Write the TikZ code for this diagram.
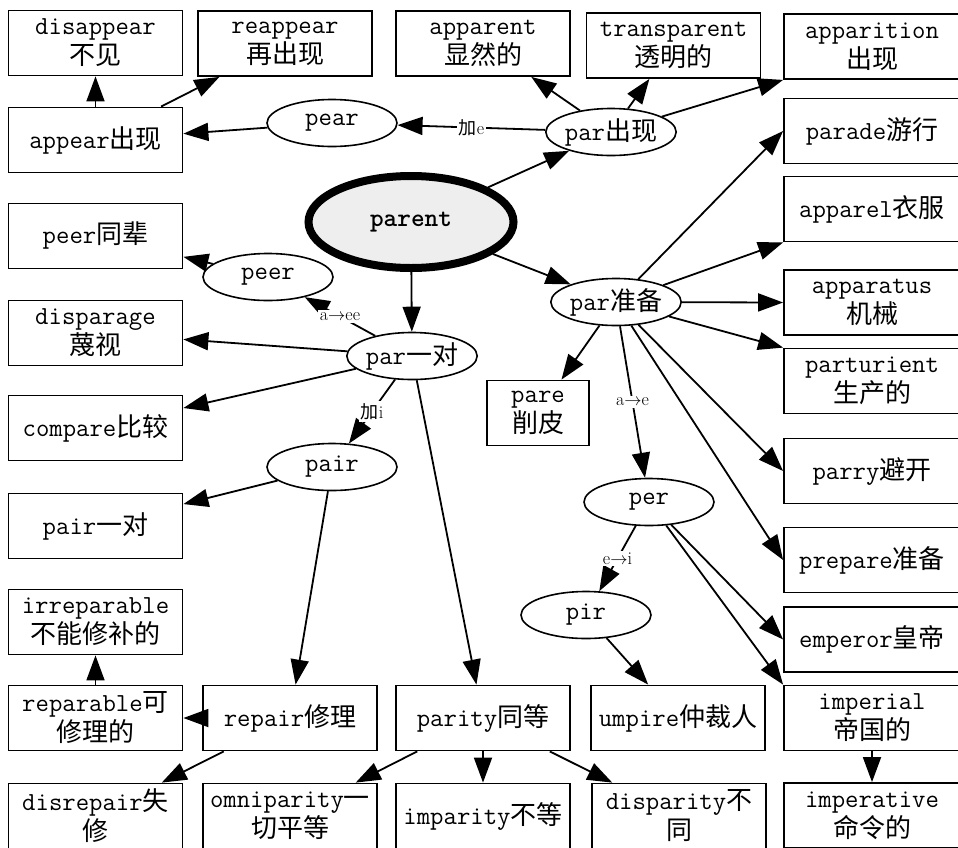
\documentclass[tikz,border=0pt]{standalone}
\usepackage{fontspec}
\newfontfamily\cjk{Noto Sans CJK SC}
\usetikzlibrary{shapes.geometric,arrows.meta}
\newcommand{\zh}[1]{{\cjk #1}}
\tikzset{
  box/.style={draw, line width=1.8pt, minimum width=174pt, minimum height=65pt, inner sep=0pt, align=center,
    font=\ttfamily\fontsize{26}{30}\selectfont},
  rbox/.style={box, minimum width=176pt},
  oval/.style={ellipse, draw, line width=1.6pt, minimum width=130pt, minimum height=47pt, inner sep=0pt,
    font=\ttfamily\fontsize{26}{30}\selectfont},
  root/.style={ellipse, draw, line width=8pt, fill=gray!13, minimum width=205pt, minimum height=92pt, inner sep=0pt,
    font=\ttfamily\bfseries\fontsize{26}{30}\selectfont},
  arr/.style={line width=1.8pt, -{Triangle[length=25pt,width=18pt]}},
  lbl/.style={fill=white, inner sep=2pt, font=\rmfamily\fontsize{18}{20}\selectfont},
}
\begin{document}
\begin{tikzpicture}[x=1pt,y=-1pt]
\useasboundingbox (0,0) rectangle (958,847);
% left column
\node[box] (disappear) at (95.5,43) {disappear\\\zh{不见}};
\node[box] (appear) at (95.5,140) {appear\zh{出现}};
\node[box] (peerT) at (95.5,236) {peer\zh{同辈}};
\node[box] (disparage) at (95.5,333) {disparage\\\zh{蔑视}};
\node[box] (compare) at (95.5,428) {compare\zh{比较}};
\node[box] (pairT) at (95.5,526) {pair\zh{一对}};
\node[box] (irreparable) at (95.5,622) {irreparable\\\zh{不能修补的}};
\node[box] (reparable) at (95.5,718) {reparable\zh{可}\\\zh{修理的}};
\node[box] (disrepair) at (95.5,816) {disrepair\zh{失}\\\zh{修}};
% top row
\node[box] (reappear) at (285,43.5) {reappear\\\zh{再出现}};
\node[box] (apparent) at (483,43.5) {apparent\\\zh{显然的}};
\node[box] (transparent) at (673.5,45.5) {transparent\\\zh{透明的}};
\node[rbox] (apparition) at (872,46.5) {apparition\\\zh{出现}};
% right column
\node[rbox] (parade) at (872,131) {parade\zh{游行}};
\node[rbox] (apparel) at (872,209) {apparel\zh{衣服}};
\node[rbox] (apparatus) at (872,302.5) {apparatus\\\zh{机械}};
\node[rbox] (parturient) at (872,381) {parturient\\\zh{生产的}};
\node[rbox] (parry) at (872,471) {parry\zh{避开}};
\node[rbox] (prepare) at (872,560) {prepare\zh{准备}};
\node[rbox] (emperor) at (872,639.5) {emperor\zh{皇帝}};
\node[rbox] (imperial) at (872,718) {imperial\\\zh{帝国的}};
\node[rbox] (imperative) at (872,815.5) {imperative\\\zh{命令的}};
% middle boxes
\node[box] (repair) at (290,718) {repair\zh{修理}};
\node[box] (parity) at (483,718) {parity\zh{同等}};
\node[box] (umpire) at (678,718) {umpire\zh{仲裁人}};
\node[box] (omniparity) at (290,816) {omniparity\zh{一}\\\zh{切平等}};
\node[box] (imparity) at (483,816) {imparity\zh{不等}};
\node[box] (disparity) at (679,816) {disparity\zh{不}\\\zh{同}};
\node[box, minimum width=102pt] (pare) at (538,413) {pare\\\zh{削皮}};
% ellipses
\node[root] (parent) at (411,222) {parent};
\node[oval] (pear) at (332,123) {pear};
\node[oval] (parOcc) at (611,132) {par\zh{出现}};
\node[oval] (peer) at (268,277) {peer};
\node[oval] (par1) at (412,356) {par\zh{一对}};
\node[oval] (parP) at (616,302) {par\zh{准备}};
\node[oval] (pair) at (332,467) {pair};
\node[oval] (per) at (649,502) {per};
\node[oval] (pir) at (586,615) {pir};
% edges
\draw[arr] (appear) -- (disappear);
\draw[arr] (appear) -- (reappear);
\draw[arr] (pear) -- (appear);
\draw[arr] (parOcc) -- node[lbl]{\zh{加}e} (pear);
\draw[arr] (parOcc) -- (apparent);
\draw[arr] (parOcc) -- (transparent);
\draw[arr] (parOcc) -- (apparition.south west);
\draw[arr] (parent) -- (parOcc);
\draw[arr] (parent) -- (parP);
\draw[arr] (parent) -- (par1);
\draw[arr] (par1) -- node[lbl]{a$\to$ee} (peer);
\draw[arr] (peer) -- (peerT);
\draw[arr] (par1) -- (disparage);
\draw[arr] (par1) -- (compare);
\draw[arr] (par1) -- node[lbl]{\zh{加}i} (pair);
\draw[arr] (par1) -- (parity);
\draw[arr] (pair) -- (pairT);
\draw[arr] (pair) -- (repair);
\draw[arr] (repair) -- (reparable);
\draw[arr] (reparable) -- (irreparable);
\draw[arr] (repair) -- (disrepair);
\draw[arr] (parity) -- (omniparity);
\draw[arr] (parity) -- (imparity);
\draw[arr] (parity) -- (disparity);
\draw[arr] (parP) -- (parade.west);
\draw[arr] (parP) -- (apparel.south west);
\draw[arr] (parP) -- (apparatus.west);
\draw[arr] (parP) -- (parturient.north west);
\draw[arr] (parP) -- (parry.west);
\draw[arr] (parP) -- (prepare.west);
\draw[arr] (parP) -- (pare);
\draw[arr] (parP) -- node[lbl]{a$\to$e} (per);
\draw[arr] (per) -- node[lbl]{e$\to$i} (pir);
\draw[arr] (per) -- (emperor.west);
\draw[arr] (per) -- (imperial.north west);
\draw[arr] (pir) -- (umpire);
\draw[arr] (imperial) -- (imperative);
\end{tikzpicture}
\end{document}
